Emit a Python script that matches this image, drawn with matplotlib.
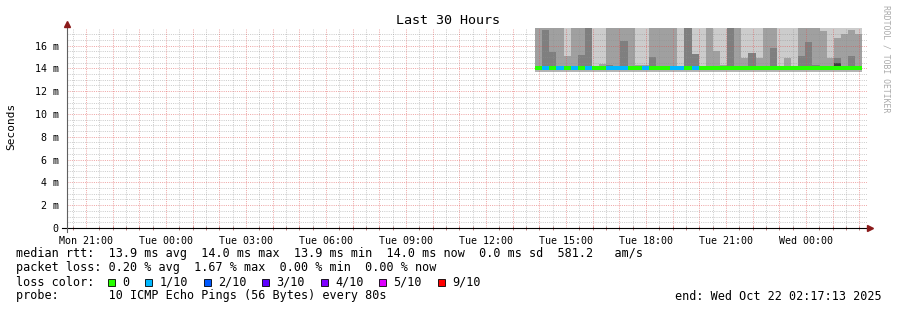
import numpy as np
import matplotlib.pyplot as plt
from matplotlib.patches import Rectangle

# hours counted from Mon 00:00
t_end = 48 + 2 + 17 / 60 + 13 / 3600
t_start = t_end - 30
smoke_start = 37.84
step = 16 / 60

# smoke layers per 16 min column (ms)
dark_top = [14.0, 17.4, 15.4, 14.0, 14.0, 14.0, 15.2, 17.5, 14.1, 14.0,
            14.3, 14.0, 16.4, 14.0, 14.0, 14.0, 14.95, 14.0, 14.0, 14.0,
            14.0, 17.6, 15.25, 14.0, 14.0, 14.0, 14.0, 17.6, 14.0, 14.0,
            15.3, 14.0, 14.0, 15.8, 14.0, 14.0, 14.1, 15.05, 16.3, 14.25,
            14.0, 14.0, 14.9, 14.1, 15.1, 14.0]
mid_top = [17.6, 17.6, 17.6, 17.6, 15.05, 17.6, 17.6, 17.6, 14.2, 14.4,
           17.6, 17.6, 17.6, 17.6, 14.3, 14.3, 17.6, 17.6, 17.6, 17.6,
           14.2, 17.6, 15.25, 14.0, 17.6, 15.5, 14.3, 17.6, 17.6, 14.9,
           15.3, 14.9, 17.6, 17.6, 14.0, 14.9, 14.2, 17.6, 17.6, 17.6,
           17.3, 14.9, 16.7, 17.0, 17.4, 17.0]
light_top = [17.6] * 46
smoke_bottom = [13.68] * 46
low_dark_top = [13.82] * 46
darkest_col = [42]
darkest_lo = [14.2]
darkest_hi = [14.5]

median = [13.98] * 46
# lost pings out of 10
loss = [0, 1, 0, 1, 0, 1, 0, 1, 0, 0,
        1, 1, 1, 0, 0, 1, 0, 0, 0, 1,
        1, 0, 1, 0, 0, 0, 0, 0, 0, 0,
        0, 0, 0, 0, 0, 0, 0, 0, 0, 0,
        0, 0, 0, 0, 0, 0]

loss_labels = ["0", "1/10", "2/10", "3/10", "4/10", "5/10", "9/10"]
loss_colors = ["#26ff00", "#00b8ff", "#0059ff", "#5e00ff", "#7e00ff", "#dd00ff", "#ff0000"]
loss_map = {0: "#26ff00", 1: "#00b8ff", 2: "#0059ff", 3: "#5e00ff",
            4: "#7e00ff", 5: "#dd00ff", 9: "#ff0000"}

tick_hours = [21, 24, 27, 30, 33, 36, 39, 42, 45, 48]
tick_labels = ["Mon 21:00", "Tue 00:00", "Tue 03:00", "Tue 06:00", "Tue 09:00",
               "Tue 12:00", "Tue 15:00", "Tue 18:00", "Tue 21:00", "Wed 00:00"]
y_ticks = [0, 2, 4, 6, 8, 10, 12, 14, 16]
y_labels = ["0", "2 m", "4 m", "6 m", "8 m", "10 m", "12 m", "14 m", "16 m"]

W, H = 897, 310
mono = "DejaVu Sans Mono"
plt.rcParams['font.family'] = mono

fig = plt.figure(figsize=(W / 100, H / 100), dpi=100)
ax = fig.add_axes([67 / W, 1 - 228 / H, 800 / W, (228 - 28.4) / H])
ax.set_xlim(t_start, t_end)
ax.set_ylim(0, 17.5)

def px(x, y):
    return x / W, 1 - y / H

# smoke
cols = smoke_start + step * np.arange(len(dark_top))
bot = np.array(smoke_bottom)
for top, c in [(light_top, "#cccccc"), (mid_top, "#a0a0a0"), (dark_top, "#7f7f7f")]:
    ax.bar(cols, np.array(top) - bot, bottom=bot, width=step, align='edge',
           color=c, lw=0, antialiased=False, zorder=2)
ax.bar(cols, np.array(low_dark_top) - bot, bottom=bot, width=step, align='edge',
       color="#b4b4b4", lw=0, antialiased=False, zorder=2)
ax.bar(cols[darkest_col], np.array(darkest_hi) - np.array(darkest_lo),
       bottom=darkest_lo, width=step, align='edge', color="#404040", lw=0,
       antialiased=False, zorder=2)

# median line coloured by loss
ax.bar(cols, 0.34, bottom=np.array(median) - 0.16, width=step, align='edge',
       color=[loss_map[l] for l in loss], lw=0, antialiased=False, zorder=6)

# grid (drawn over the data like rrdtool)
minor_c = (0.56, 0.56, 0.56, 0.45)
major_c = (0.87, 0.31, 0.31, 0.5)
for h in np.arange(np.ceil(t_start * 2) / 2, t_end, 0.5):
    if h % 1 == 0:
        ax.axvline(h, color=major_c, lw=0.72, ls=(0, (1, 1.2)), zorder=5)
    else:
        ax.axvline(h, color=minor_c, lw=0.72, ls=(0, (1, 1.2)), zorder=4)
for v in np.arange(0.5, 17.5, 0.5):
    if v % 2 == 0:
        ax.axhline(v, color=major_c, lw=0.72, ls=(0, (1, 1.2)), zorder=5)
    else:
        ax.axhline(v, color=minor_c, lw=0.72, ls=(0, (1, 1.2)), zorder=4)

for s in ax.spines.values():
    s.set_visible(False)
ax.set_xticks(tick_hours)
ax.set_xticklabels(tick_labels, fontsize=7.2)
ax.set_xticks(np.arange(np.ceil(t_start * 2) / 2, t_end, 0.5), minor=True)
ax.set_yticks(y_ticks)
ax.set_yticklabels(y_labels, fontsize=7.2)
ax.tick_params(axis='x', which='major', length=0, pad=6)
ax.tick_params(axis='x', which='minor', direction='inout', length=3,
               width=0.7, color="#c08080")
ax.tick_params(axis='y', which='major', length=0, pad=6)

# axis lines with arrows
ax.plot([-5 / 800, 803 / 800], [0, 0], color="#000000", lw=0.8,
        transform=ax.transAxes, clip_on=False, zorder=7)
ax.plot([0, 0], [-4 / 199.6, 204 / 199.6], color="#606060", lw=0.8,
        transform=ax.transAxes, clip_on=False, zorder=7)
ax.plot(803 / 800, 0, marker='>', ms=4, color="#8b1a1a", mec="#8b1a1a",
        transform=ax.transAxes, clip_on=False, zorder=8)
ax.plot(0, 204 / 199.6, marker='^', ms=4, color="#8b1a1a", mec="#8b1a1a",
        transform=ax.transAxes, clip_on=False, zorder=8)

# titles
fig.text(*px(448, 20), "Last 30 Hours", fontsize=9.6, ha='center', va='center')
fig.text(*px(11, 126), "Seconds", fontsize=8, rotation=90, ha='center', va='center')
fig.text(*px(886, 5), "RRDTOOL / TOBI OETIKER", fontsize=5.9, rotation=270,
         ha='center', va='top', color="#aaaaaa")

# legend
fs = 8.5
cw = 7.12
fig.text(*px(16, 254), "median rtt:  13.9 ms avg  14.0 ms max  13.9 ms min  "
         "14.0 ms now  0.0 ms sd  581.2   am/s", fontsize=fs, va='center')
fig.text(*px(16, 268), "packet loss: 0.20 % avg  1.67 % max  0.00 % min  0.00 % now",
         fontsize=fs, va='center')
fig.text(*px(16, 282), "loss color:", fontsize=fs, va='center')
bx = 108
for lab, c in zip(loss_labels, loss_colors):
    fig.patches.append(Rectangle(px(bx, 286), 7 / W, 7 / H, transform=fig.transFigure,
                                 facecolor=c, edgecolor="#000000", lw=0.6))
    tx = bx + 14.5
    fig.text(*px(tx, 282), lab, fontsize=fs, va='center')
    bx = tx + len(lab) * cw + 15.5
fig.text(*px(16, 296), "probe:       10 ICMP Echo Pings (56 Bytes) every 80s",
         fontsize=fs, va='center')
fig.text(*px(882, 296), "end: Wed Oct 22 02:17:13 2025", fontsize=fs,
         va='center', ha='right')

fig.savefig("out.png", dpi=100, facecolor="white")
